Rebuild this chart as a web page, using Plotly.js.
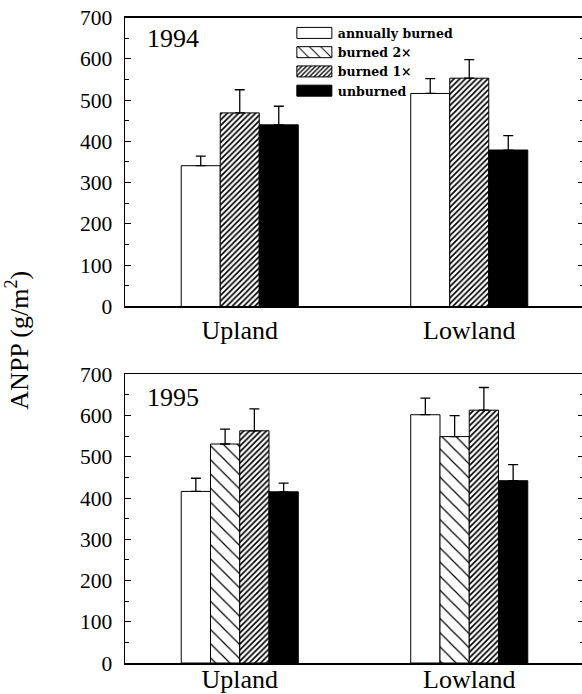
<!DOCTYPE html>
<html>
<head>
<meta charset="utf-8">
<script src="https://cdn.plot.ly/plotly-3.0.1.min.js"></script>
<style>
html,body{margin:0;padding:0;overflow:hidden;background:#fff;}
#chart{width:590px;height:694px;}
</style>
</head>
<body>
<div id="chart"></div>
<script>
// ---- data ----
const sites = ["Upland", "Lowland"];
const seriesNames = ["annually burned", "burned 2\u00d7", "burned 1\u00d7", "unburned"];

// 1994 (no "burned 2x" treatment)
const y1994_annual = [341, 516];
const y1994_once   = [469, 553];
const y1994_unburn = [440, 379];
const e1994_annual = [23, 36];
const e1994_once   = [56, 45];
const e1994_unburn = [45, 35];

// 1995
const y1995_annual = [416, 602];
const y1995_twice  = [531, 549];
const y1995_once   = [563, 613];
const y1995_unburn = [415, 442];
const e1995_annual = [32, 40];
const e1995_twice  = [36, 51];
const e1995_once   = [53, 55];
const e1995_unburn = [21, 39];

const yTicks = [0, 100, 200, 300, 400, 500, 600, 700];

// ---- styles ----
const styles = {
  "annually burned": {color: "#ffffff"},
  "burned 2\u00d7": {color: "#ffffff", pattern: {shape: "\\", size: 10, solidity: 0.12, fgcolor: "#000", bgcolor: "#fff"}},
  "burned 1\u00d7": {color: "#ffffff", pattern: {shape: "/", size: 4, solidity: 0.42, fgcolor: "#000", bgcolor: "#fff"}},
  "unburned": {color: "#000000"}
};

function barTrace(name, y, err, xa, ya, showlegend) {
  const st = styles[name];
  const marker = {color: st.color, line: {color: "#000", width: 1}};
  if (st.pattern) marker.pattern = st.pattern;
  return {
    type: "bar", name: name, x: sites, y: y,
    xaxis: xa, yaxis: ya, showlegend: showlegend,
    marker: marker,
    error_y: {type: "data", symmetric: false, array: err, arrayminus: err.map(() => 0),
              color: "#000", thickness: 1.3, width: 5}
  };
}

const data = [
  barTrace(seriesNames[0], y1994_annual, e1994_annual, "x", "y", false),
  barTrace(seriesNames[2], y1994_once, e1994_once, "x", "y", false),
  barTrace(seriesNames[3], y1994_unburn, e1994_unburn, "x", "y", false),
  barTrace(seriesNames[0], y1995_annual, e1995_annual, "x2", "y2", true),
  barTrace(seriesNames[1], y1995_twice, e1995_twice, "x2", "y2", true),
  barTrace(seriesNames[2], y1995_once, e1995_once, "x2", "y2", true),
  barTrace(seriesNames[3], y1995_unburn, e1995_unburn, "x2", "y2", true)
];

const serif = "Liberation Serif, Times New Roman, serif";

function xAxis(anchor, standoff) {
  return {
    anchor: anchor, domain: [0, 1], type: "category", range: [-0.5, 1.5],
    showline: true, linecolor: "#000", linewidth: 1.5, mirror: true,
    ticks: "", showgrid: false, zeroline: false,
    tickfont: {family: serif, size: 26, color: "#000"},
    ticklabelstandoff: standoff
  };
}
function yAxis(anchor, domain) {
  return {
    anchor: anchor, domain: domain, range: [0, 700],
    tickvals: yTicks, ticktext: yTicks.map(String),
    showline: true, linecolor: "#000", linewidth: 1.5, mirror: "allticks",
    ticks: "inside", ticklen: 6, tickwidth: 1, tickcolor: "#000",
    minor: {dtick: 50, ticks: "inside", ticklen: 4, tickwidth: 1, tickcolor: "#000"},
    showgrid: false, zeroline: false,
    tickfont: {family: serif, size: 21.5, color: "#000"},
    ticklabelstandoff: 7
  };
}

const layout = {
  width: 590, height: 694,
  margin: {l: 125, r: 6, t: 17, b: 31},
  paper_bgcolor: "#fff", plot_bgcolor: "#fff",
  barmode: "group", bargap: 0.49, bargroupgap: 0,
  showlegend: true,
  legend: {
    x: 0.3635, y: 0.998, xanchor: "left", yanchor: "top",
    bgcolor: "rgba(0,0,0,0)", borderwidth: 0,
    itemwidth: 36, tracegroupgap: 0,
    font: {family: "DejaVu Serif, serif", size: 12.5, color: "#000", weight: "bold"}
  },
  xaxis: xAxis("y", 0),
  yaxis: yAxis("x", [0.5519, 0.9992]),
  xaxis2: xAxis("y2", -8),
  yaxis2: yAxis("x2", [0, 0.4469]),
  annotations: [
    {text: "1994", xref: "paper", yref: "paper", x: 0.0436, y: 0.966, xanchor: "left", yanchor: "middle",
     showarrow: false, font: {family: serif, size: 26, color: "#000"}},
    {text: "1995", xref: "paper", yref: "paper", x: 0.0436, y: 0.4107, xanchor: "left", yanchor: "middle",
     showarrow: false, font: {family: serif, size: 26, color: "#000"}},
    {text: "ANPP (g/m<sup>2</sup>)", xref: "paper", yref: "paper", x: -0.236, y: 0.5, xanchor: "center", yanchor: "middle",
     textangle: -90, showarrow: false, font: {family: serif, size: 26, color: "#000"}}
  ]
};

function widenLegendSymbols() {
  document.querySelectorAll("#chart .legend .legendpoints path").forEach(function(p) {
    p.setAttribute("d", "M17,5.5H-18V-5.5H17Z");
  });
}

Plotly.newPlot("chart", data, layout, {staticPlot: true}).then(function(gd) {
  widenLegendSymbols();
  gd.on && gd.on("plotly_afterplot", widenLegendSymbols);
  requestAnimationFrame(widenLegendSymbols);
  setTimeout(widenLegendSymbols, 50);
  setTimeout(widenLegendSymbols, 300);
});
</script>
</body>
</html>
